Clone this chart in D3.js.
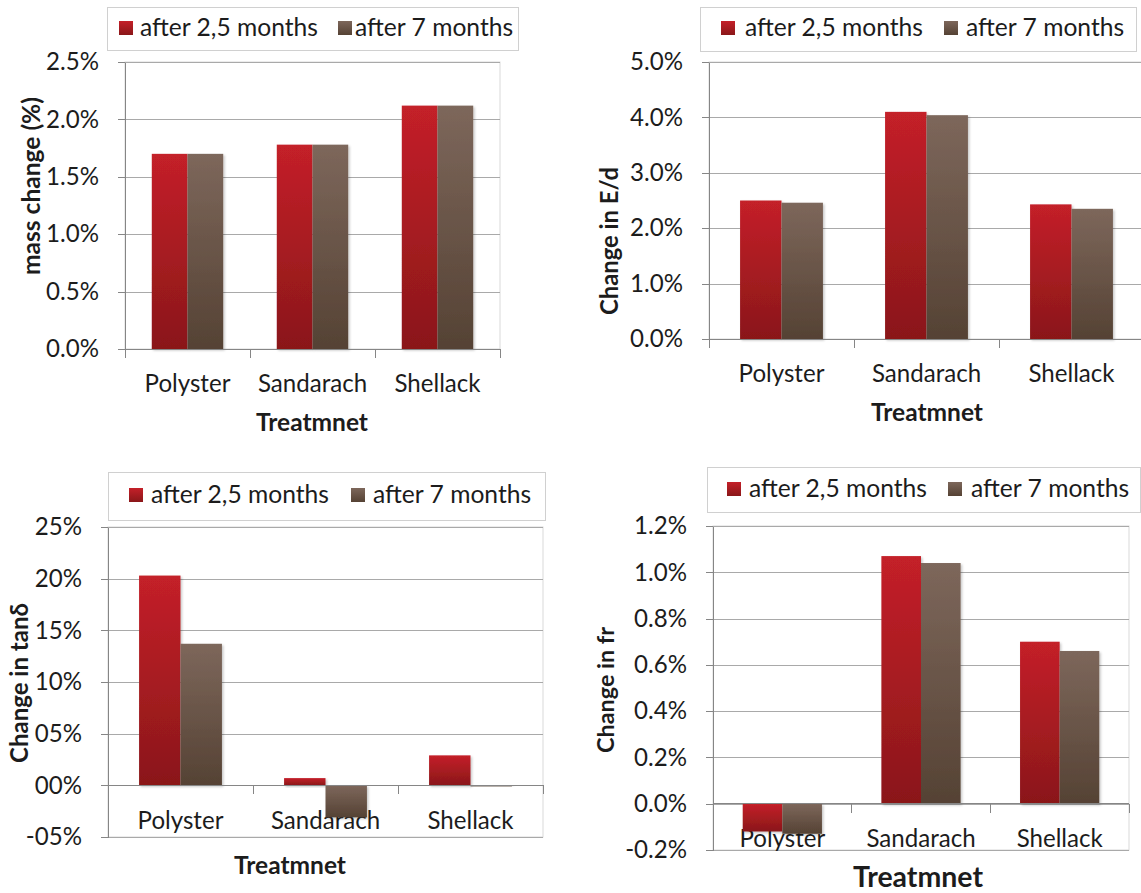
<!DOCTYPE html>
<html><head><meta charset="utf-8">
<script src="https://cdn.jsdelivr.net/npm/d3@7"></script>
<style>body{margin:0;background:#fff} svg{display:block}</style>
</head><body>
<svg id="c" width="1141" height="893"></svg>
<script>
// ---------- data ----------
const categories = ["Polyster", "Sandarach", "Shellack"];
const seriesNames = ["after 2,5 months", "after 7 months"];
const xTitle = "Treatmnet";

const mass25 = [1.70, 1.78, 2.12];
const mass7  = [1.70, 1.78, 2.12];
const massTicks = [0, 0.5, 1.0, 1.5, 2.0, 2.5];
const massTickLabels = ["0.0%", "0.5%", "1.0%", "1.5%", "2.0%", "2.5%"];

const ed25 = [2.50, 4.10, 2.43];
const ed7  = [2.46, 4.04, 2.35];
const edTicks = [0, 1, 2, 3, 4, 5];
const edTickLabels = ["0.0%", "1.0%", "2.0%", "3.0%", "4.0%", "5.0%"];

const tan25 = [20.3, 0.7, 2.9];
const tan7  = [13.7, -3.1, -0.1];
const tanTicks = [-5, 0, 5, 10, 15, 20, 25];
const tanTickLabels = ["-05%", "00%", "05%", "10%", "15%", "20%", "25%"];

const fr25 = [-0.12, 1.07, 0.70];
const fr7  = [-0.13, 1.04, 0.66];
const frTicks = [-0.2, 0, 0.2, 0.4, 0.6, 0.8, 1.0, 1.2];
const frTickLabels = ["-0.2%", "0.0%", "0.2%", "0.4%", "0.6%", "0.8%", "1.0%", "1.2%"];

// ---------- layout ----------
const FONT = "Lato, 'Open Sans', sans-serif";
const TEXT = "#1c1c1c";
const panels = [
  {s: [mass25, mass7], ticks: massTicks, labels: massTickLabels, domain: [0, 2.5],
   px: [125, 500], py: [349, 62], ytitle: "mass change (%)", yt: [31, 186, 178],
   xt: [312, 422, 112], leg: {x: 107, y: 7, w: 411, h: 43, sw: [119, 338], tx: [140, 355], base: 36}},
  {s: [ed25, ed7], ticks: edTicks, labels: edTickLabels, domain: [0, 5],
   px: [709, 1144], py: [339, 62], ytitle: "Change in E/d", yt: [610, 241, 148],
   xt: [927, 412, 112], leg: {x: 700, y: 7, w: 436, h: 44, sw: [721, 944], tx: [745, 966], base: 36}},
  {s: [tan25, tan7], ticks: tanTicks, labels: tanTickLabels, domain: [-5, 25],
   px: [108, 543], py: [837, 527], ytitle: "Change in tan\u03b4", yt: [20, 683, 160],
   xt: [290, 865, 112], leg: {x: 108, y: 472, w: 437, h: 48, sw: [129, 351], tx: [151, 373], base: 503}},
  {s: [fr25, fr7], ticks: frTicks, labels: frTickLabels, domain: [-0.2, 1.2],
   px: [713, 1129], py: [850, 526], ytitle: "Change in fr", yt: [606, 690, 126],
   xt: [918, 877, 130], leg: {x: 707, y: 467, w: 433, h: 45, sw: [727, 948], tx: [749, 971], base: 497}}
];

const svg = d3.select("#c");
const defs = svg.append("defs");
function grad(id, top, bottom) {
  const g = defs.append("linearGradient").attr("id", id)
    .attr("x1", 0).attr("y1", 0).attr("x2", 0).attr("y2", 1);
  g.append("stop").attr("offset", "0%").attr("stop-color", top);
  g.append("stop").attr("offset", "100%").attr("stop-color", bottom);
}
grad("gRed", "#c42029", "#8a1719");
grad("gBrown", "#7d675b", "#554234");
const fills = ["url(#gRed)", "url(#gBrown)"];
const flt = defs.append("filter").attr("id", "sh")
  .attr("x", "-20%").attr("y", "-20%").attr("width", "150%").attr("height", "150%");
flt.append("feDropShadow").attr("dx", 1.5).attr("dy", 1.5).attr("stdDeviation", 1.2)
  .attr("flood-color", "#000").attr("flood-opacity", 0.22);

// font fitting helper
const meas = svg.append("text").attr("font-family", FONT).attr("x", -2000).attr("y", -2000);
function fit(text, weight, target) {
  meas.attr("font-weight", weight).attr("font-size", 100).text(text);
  return 100 * target / meas.node().getComputedTextLength();
}
const legSize = fit(seriesNames[0], 400, 178);
const lblSize = (fit("Polyster", 400, 84) + legSize) / 2;
meas.remove();

panels.forEach(p => {
  const g = svg.append("g");
  const y = d3.scaleLinear().domain(p.domain).range(p.py);
  const x = d3.scaleBand().domain(categories).range(p.px).paddingInner(0.4286).paddingOuter(0.2143);
  const xs = d3.scaleBand().domain([0, 1]).range([0, x.bandwidth()]);
  const y0 = y(0);

  // plot border
  g.append("rect").attr("x", p.px[0]).attr("y", p.py[1])
    .attr("width", p.px[1] - p.px[0]).attr("height", p.py[0] - p.py[1])
    .attr("fill", "none").attr("stroke", "#d9d9d9");

  // gridlines
  const grid = g.append("g").attr("transform", `translate(${p.px[0]},0)`)
    .call(d3.axisLeft(y).tickValues(p.ticks).tickSize(-(p.px[1] - p.px[0])).tickFormat(""));
  grid.select(".domain").remove();
  grid.selectAll("line").attr("stroke", "#a9a9a9").attr("shape-rendering", "crispEdges");

  // y axis with labels
  const ya = g.append("g").attr("transform", `translate(${p.px[0]},0)`)
    .call(d3.axisLeft(y).tickValues(p.ticks).tickFormat((d, i) => p.labels[i])
      .tickSizeInner(7).tickSizeOuter(0).tickPadding(19));
  ya.select(".domain").attr("stroke", "#868686").attr("shape-rendering", "crispEdges");
  ya.selectAll("line").attr("stroke", "#868686").attr("shape-rendering", "crispEdges");
  ya.selectAll("text").attr("font-family", FONT).attr("font-size", lblSize).attr("fill", TEXT);

  // category labels (drawn under the bars)
  const xa = g.append("g").attr("transform", `translate(0,${y0})`)
    .call(d3.axisBottom(x).tickSize(0).tickSizeOuter(0));
  xa.select(".domain").remove();
  xa.selectAll("text").attr("font-family", FONT).attr("font-size", lblSize).attr("fill", TEXT)
    .attr("y", 35).attr("dy", "0.35em");

  // bars
  categories.forEach((c, ci) => {
    p.s.forEach((vals, si) => {
      const v = vals[ci];
      g.append("rect")
        .attr("x", x(c) + xs(si)).attr("width", xs.bandwidth())
        .attr("y", Math.min(y(v), y0)).attr("height", Math.abs(y(v) - y0))
        .attr("fill", fills[si]).attr("filter", "url(#sh)");
    });
  });

  // horizontal axis line at zero with category boundary ticks
  const step = x.step();
  const bounds = categories.map(c => x(c) - step * x.paddingInner() / 2).concat([p.px[1]]);
  g.append("line").attr("x1", p.px[0]).attr("x2", p.px[1]).attr("y1", y0).attr("y2", y0)
    .attr("stroke", "#868686").attr("shape-rendering", "crispEdges");
  g.selectAll(null).data(bounds).join("line")
    .attr("x1", d => d).attr("x2", d => d).attr("y1", y0).attr("y2", y0 + 9)
    .attr("stroke", "#868686").attr("shape-rendering", "crispEdges");

  // titles
  const ytSize = fit2(p.ytitle, p.yt[2]);
  g.append("text").attr("transform", `translate(${p.yt[0]},${p.yt[1]}) rotate(-90)`)
    .attr("text-anchor", "middle").attr("dy", "0.35em")
    .attr("font-family", FONT).attr("font-weight", 700).attr("font-size", ytSize)
    .attr("fill", TEXT).text(p.ytitle);
  g.append("text").attr("x", p.xt[0]).attr("y", p.xt[1]).attr("dy", "0.35em")
    .attr("text-anchor", "middle")
    .attr("font-family", FONT).attr("font-weight", 700).attr("font-size", fit2(xTitle, p.xt[2]))
    .attr("fill", TEXT).text(xTitle);

  // legend
  const L = p.leg;
  g.append("rect").attr("x", L.x + 0.5).attr("y", L.y + 0.5).attr("width", L.w).attr("height", L.h)
    .attr("fill", "#fff").attr("stroke", "#d0d0d0");
  seriesNames.forEach((n, i) => {
    g.append("rect").attr("x", L.sw[i]).attr("y", L.base - 15).attr("width", 14).attr("height", 14)
      .attr("fill", fills[i]);
    g.append("text").attr("x", L.tx[i]).attr("y", L.base)
      .attr("font-family", FONT).attr("font-size", legSize).attr("fill", TEXT).text(n);
  });
});

function fit2(text, target) {
  const t = svg.append("text").attr("font-family", FONT).attr("font-weight", 700)
    .attr("font-size", 100).attr("x", -2000).attr("y", -2000).text(text);
  const w = t.node().getComputedTextLength();
  t.remove();
  return 100 * target / w;
}
</script>
</body></html>
